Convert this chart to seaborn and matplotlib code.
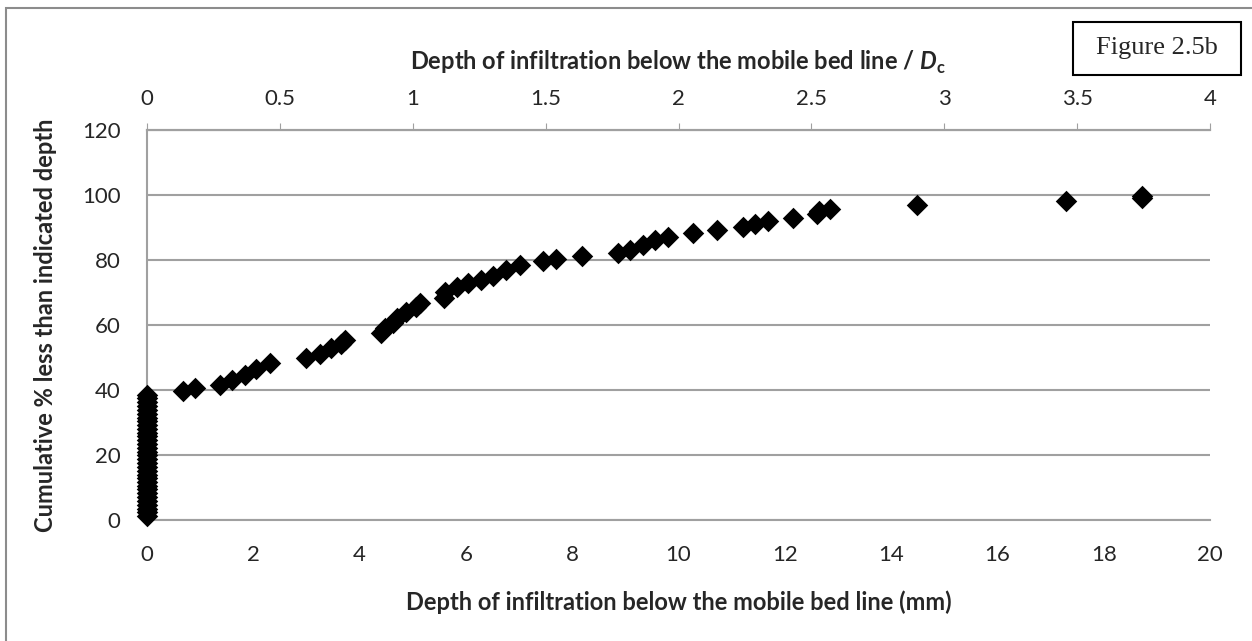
import matplotlib
matplotlib.use("Agg")
import matplotlib.pyplot as plt
from matplotlib.patches import Rectangle
import seaborn as sns
import pandas as pd

# depth of infiltration (mm) and cumulative % less than indicated depth
depth_zero_pct = [1.2, 2.4, 3.5, 4.7, 5.9, 7.0, 8.2, 9.4, 10.5, 11.7, 12.9,
                  14.0, 15.2, 16.4, 17.5, 18.7, 19.9, 21.0, 22.2, 23.4, 24.5,
                  25.7, 26.9, 28.0, 29.2, 30.4, 31.5, 32.7, 33.9, 35.0, 36.2,
                  37.4, 38.5]
depth_mm = [0.68, 0.90, 1.37, 1.59, 1.84, 2.06, 2.31, 3.00, 3.25, 3.47, 3.65,
            3.73, 4.41, 4.48, 4.63, 4.70, 4.88, 5.06, 5.14, 5.58, 5.61, 5.83,
            6.04, 6.29, 6.51, 6.76, 7.02, 7.45, 7.70, 8.18, 8.87, 9.09, 9.34,
            9.56, 9.81, 10.28, 10.72, 11.22, 11.44, 11.69, 12.15, 12.60, 12.65,
            12.85, 14.48, 17.30, 18.72, 18.72]
cum_pct = [39.8, 40.6, 41.6, 43.0, 44.5, 46.5, 48.3, 49.8, 51.2, 52.8, 54.2,
           55.5, 57.6, 59.0, 60.7, 62.3, 64.1, 65.5, 66.8, 68.4, 70.3, 71.8,
           72.8, 73.8, 75.2, 77.0, 78.5, 79.6, 80.4, 81.3, 82.3, 83.2, 84.6,
           86.1, 87.2, 88.2, 89.1, 90.0, 91.1, 91.9, 92.9, 94.0, 95.0,
           95.8, 96.8, 98.0, 99.0, 99.6]

x_ticks = [0, 2, 4, 6, 8, 10, 12, 14, 16, 18, 20]
top_ticks = [0, 0.5, 1, 1.5, 2, 2.5, 3, 3.5, 4]
top_labels = ["0", "0.5", "1", "1.5", "2", "2.5", "3", "3.5", "4"]
y_ticks = [0, 20, 40, 60, 80, 100, 120]

df = pd.DataFrame({
    "depth": [0.0] * len(depth_zero_pct) + depth_mm,
    "pct": depth_zero_pct + cum_pct,
})

sns.set_style("white")
plt.rcParams["font.family"] = ["Lato", "DejaVu Sans"]
plt.rcParams["mathtext.fontset"] = "custom"
plt.rcParams["mathtext.rm"] = "Lato"
plt.rcParams["mathtext.bf"] = "Lato:bold"
plt.rcParams["mathtext.bfit"] = "Lato:italic:bold"

grey = "#a0a0a0"
W, H = 1252, 641
fig = plt.figure(figsize=(W / 100, H / 100), dpi=100)
ax = fig.add_axes([147 / W, 1 - 520 / H, (1210 - 147) / W, (520 - 130) / H])

sns.scatterplot(data=df, x="depth", y="pct", marker="D", color="black",
                s=120, linewidth=0, ax=ax, zorder=3, clip_on=False)

ax.set_xlim(0, 20)
ax.set_ylim(0, 120)
ax.set_xticks(x_ticks)
ax.set_yticks(y_ticks)
ax.yaxis.grid(True, color=grey, lw=1.5)
ax.set_axisbelow(True)
for side in ["left", "bottom", "top"]:
    ax.spines[side].set_color(grey)
    ax.spines[side].set_linewidth(1.5)
ax.spines["right"].set_visible(False)
ax.tick_params(axis="x", length=0, pad=18, labelsize=16)
ax.tick_params(axis="y", length=5, color=grey, pad=14, labelsize=16)

ax.set_xlabel("Depth of infiltration below the mobile bed line (mm)",
              fontsize=17, fontweight="bold")
ax.xaxis.set_label_coords(0.5, -(602 - 520) / 390)
ax.xaxis.label.set_verticalalignment("center")
ax.set_ylabel("Cumulative % less than indicated depth",
              fontsize=17, fontweight="bold")
ax.yaxis.set_label_coords(-(147 - 46) / 1063, 0.5)
ax.yaxis.label.set_verticalalignment("center")

# secondary axis in units of Dc
ax2 = ax.twiny()
ax2.set_xlim(0, 4)
ax2.set_xticks(top_ticks)
ax2.set_xticklabels(top_labels)
for side in ["left", "bottom", "right"]:
    ax2.spines[side].set_visible(False)
ax2.spines["top"].set_color(grey)
ax2.spines["top"].set_linewidth(1.5)
ax2.tick_params(axis="x", length=5, color=grey, pad=10, labelsize=16)
ax2.set_xlabel(r"Depth of infiltration below the mobile bed line / $\mathbfit{D}_{\mathbf{c}}$",
               fontsize=17, fontweight="bold")
ax2.xaxis.set_label_coords(0.5, (520 - 62) / 390)
ax2.xaxis.label.set_verticalalignment("center")

# chart area border and figure tag
fig.patches.append(Rectangle((6 / W, -0.05), 1.1, 1.05 - 8 / H,
                             transform=fig.transFigure, fill=False,
                             edgecolor="#8c8c8c", lw=1.5))
fig.patches.append(Rectangle((1073 / W, 1 - 75 / H), (1241 - 1073) / W,
                             (75 - 22) / H, transform=fig.transFigure,
                             fill=False, edgecolor="black", lw=1.5))
fig.text(1157 / W, 1 - 48 / H, "Figure 2.5b", ha="center", va="center",
         fontsize=19, family=["Liberation Serif", "DejaVu Serif"])

fig.savefig("out.png", dpi=100)
